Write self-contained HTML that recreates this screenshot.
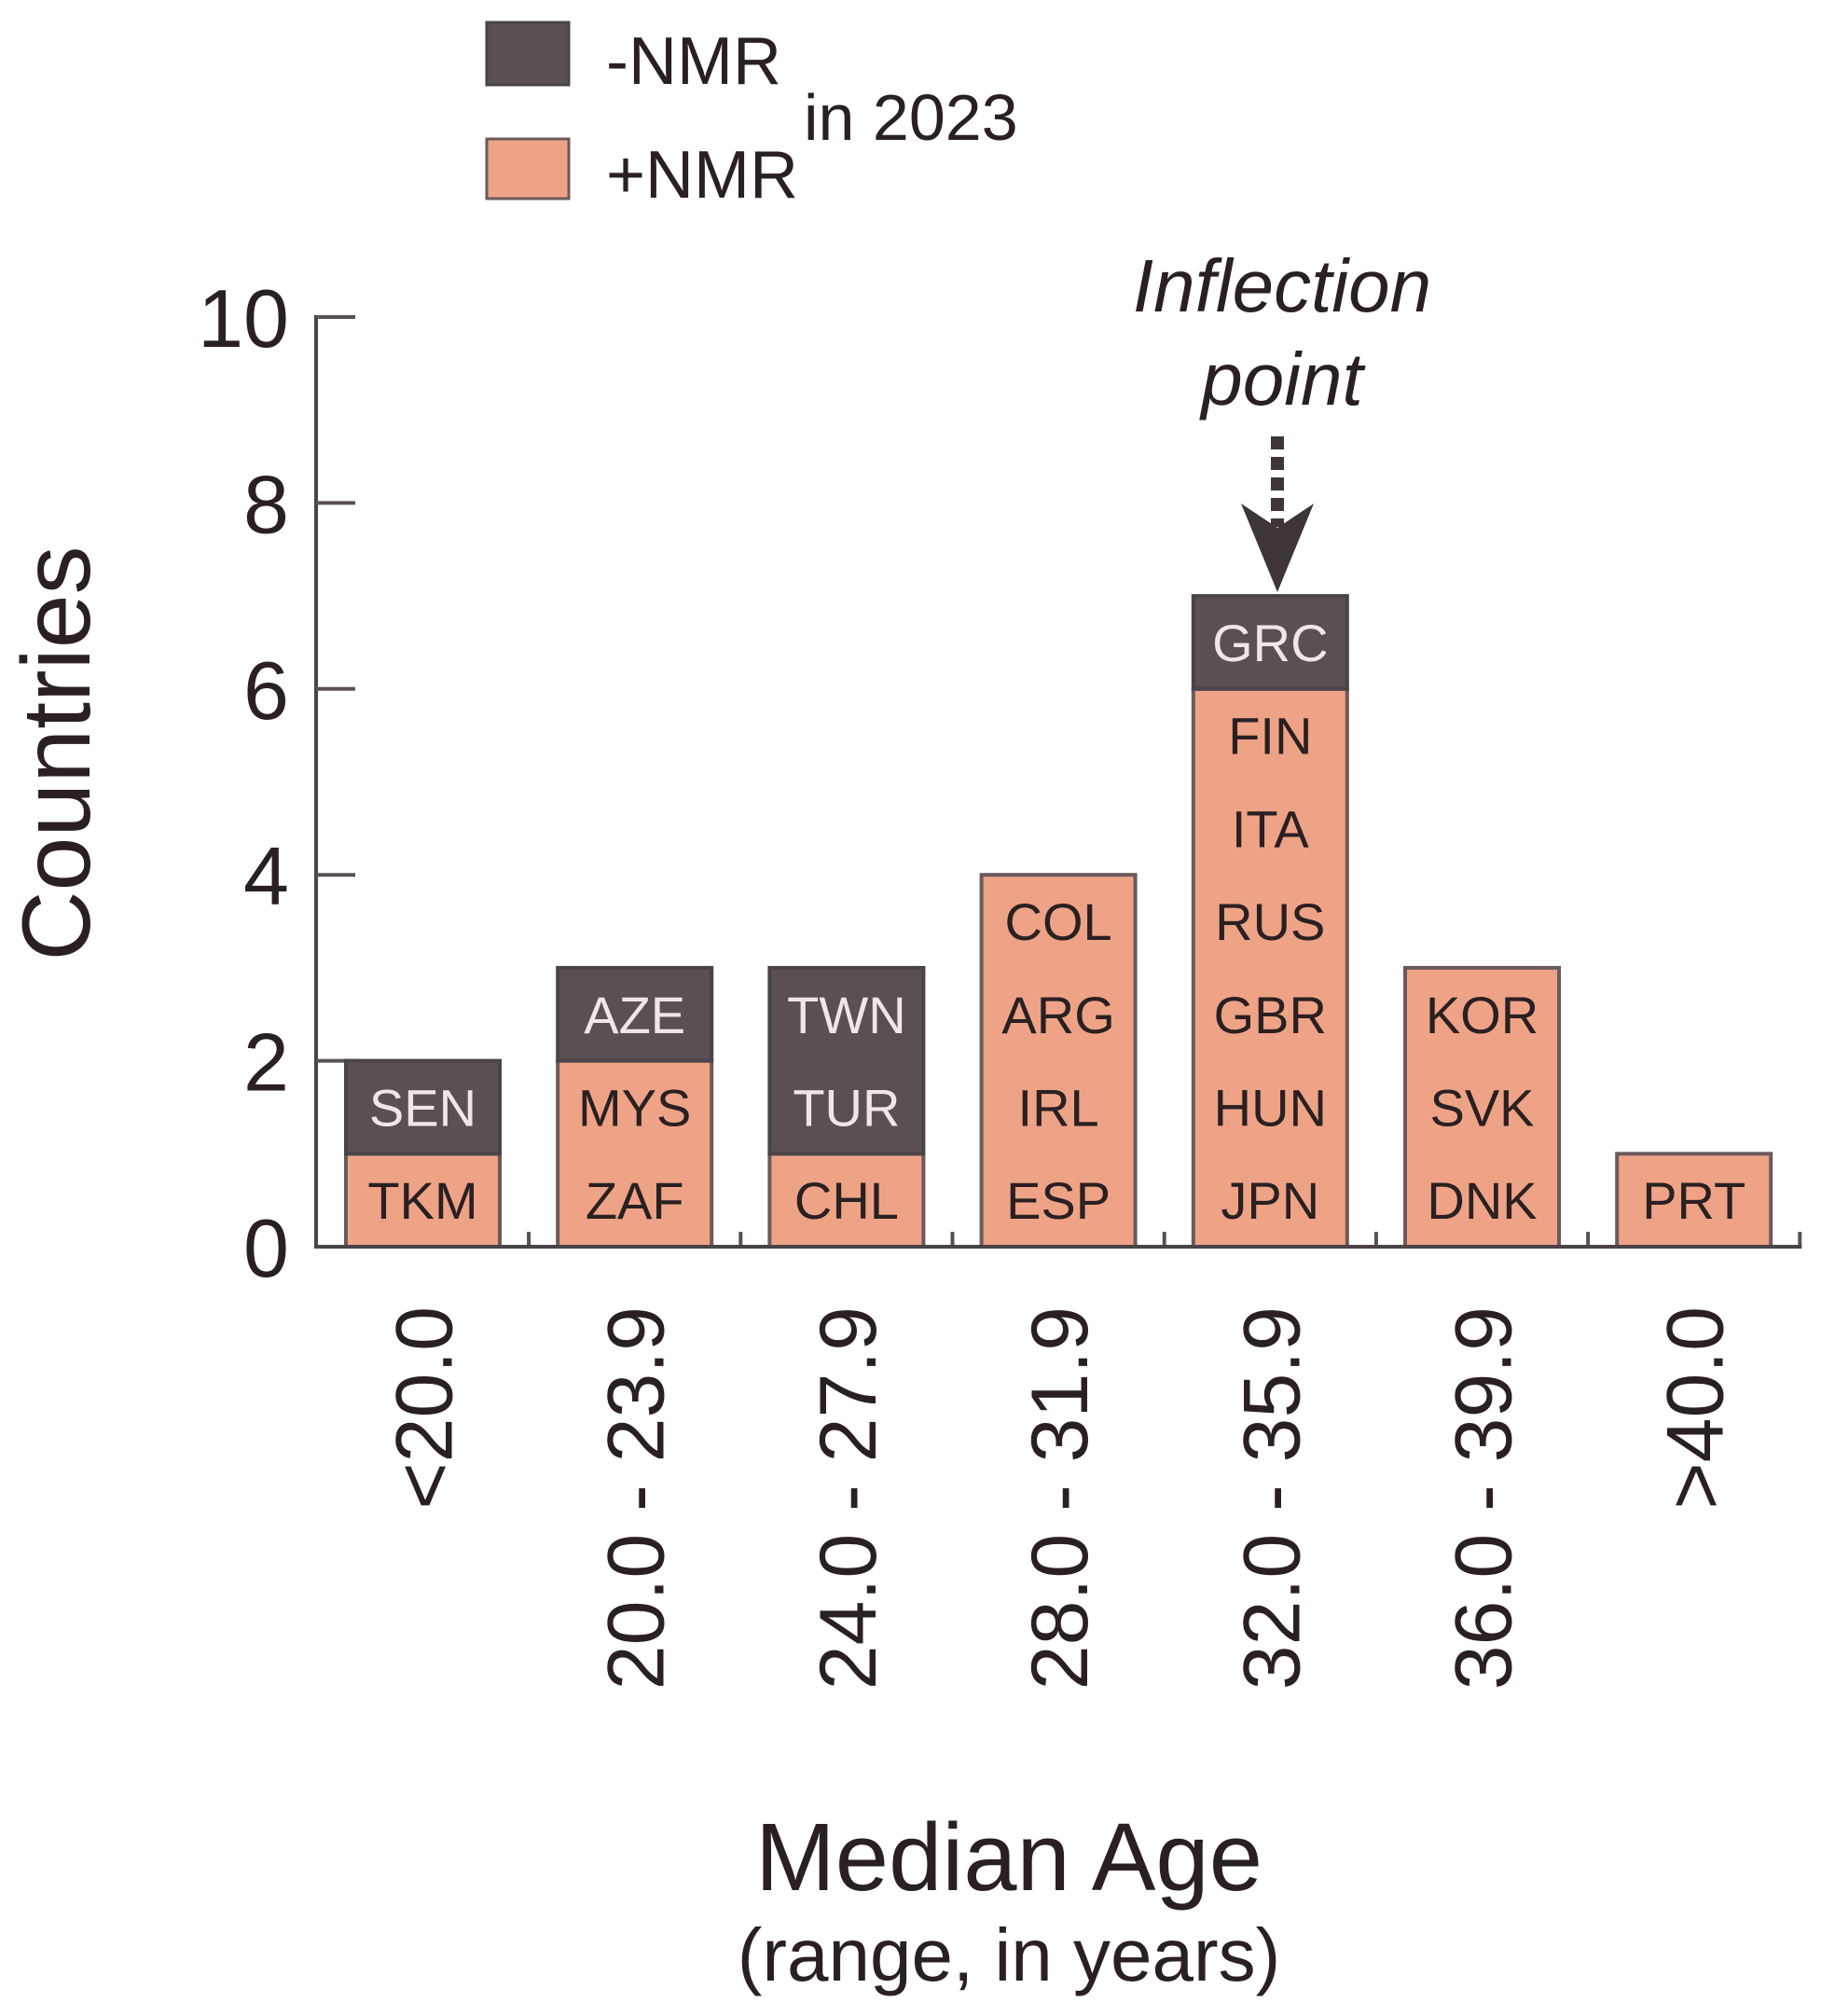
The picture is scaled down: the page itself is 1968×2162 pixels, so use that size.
<!DOCTYPE html>
<html><head><meta charset="utf-8"><style>
html,body{margin:0;padding:0;background:#fff;}
svg{display:block;font-family:"Liberation Sans",Arial,sans-serif;}
</style></head><body>
<svg id="chart" width="1968" height="2162" viewBox="0 0 1968 2162" xmlns="http://www.w3.org/2000/svg">
  <g>
    <rect x="522" y="24" width="88" height="67" fill="#5a4f55" stroke="#4a4347" stroke-width="3"/>
    <text x="650" y="90" font-size="72" fill="#2a2022">-NMR</text>
    <rect x="522" y="149" width="88" height="64" fill="#eea386" stroke="#6b5a5a" stroke-width="3"/>
    <text x="650" y="212" font-size="72" fill="#2a2022">+NMR</text>
    <text x="862" y="150" font-size="70" fill="#2a2022">in 2023</text>
  </g>
  <g>
    <text x="1375" y="334" font-size="80" font-style="italic" text-anchor="middle" fill="#2a2022">Inflection</text>
    <text x="1375" y="434" font-size="80" font-style="italic" text-anchor="middle" fill="#2a2022">point</text>
    <line x1="1370" y1="468" x2="1370" y2="565" stroke="#3d3538" stroke-width="14" stroke-dasharray="14 8"/>
    <path d="M1331 540 L1370 566 L1409 540 L1370 635 Z" fill="#3d3538"/>
  </g>
  <g id="plot"></g>
  <text transform="translate(96,808) rotate(-90)" font-size="104" text-anchor="middle" fill="#2a2022">Countries</text>
  <text x="1082" y="2027" font-size="103" text-anchor="middle" fill="#2a2022">Median Age</text>
  <text x="1082" y="2124" font-size="80" text-anchor="middle" fill="#2a2022">(range, in years)</text>
</svg>
<script>
const categories = ["<20.0","20.0 - 23.9","24.0 - 27.9","28.0 - 31.9","32.0 - 35.9","36.0 - 39.9",">40.0"];
const posCounts = [1,2,1,4,6,3,1];
const negCounts = [1,1,2,0,1,0,0];
const posLabels = [["TKM"],["ZAF","MYS"],["CHL"],["ESP","IRL","ARG","COL"],["JPN","HUN","GBR","RUS","ITA","FIN"],["DNK","SVK","KOR"],["PRT"]];
const negLabels = [["SEN"],["AZE"],["TUR","TWN"],[],["GRC"],[],[]];
const yTicks = [0,2,4,6,8,10];

const NS = "http://www.w3.org/2000/svg";
const plot = document.getElementById("plot");
const axisX = 339, y0 = 1337, y10 = 340;
const yScale = v => y0 - (y0 - y10) * v / 10;
const step = 227.2, barW = 165, firstLeft = 371;
const xLeft = i => firstLeft + i * step;
function mk(tag, attrs){const e=document.createElementNS(NS,tag);for(const k in attrs)e.setAttribute(k,attrs[k]);plot.appendChild(e);return e;}

let yl = mk("line",{x1:axisX,y1:yScale(10)-2,x2:axisX,y2:y0+2,stroke:"#4a4347","stroke-width":4});


yTicks.forEach(t=>{
  const y=yScale(t);
  if(t>0){
    const tk=mk("line",{x1:axisX,y1:y,x2:axisX+42,y2:y,stroke:"#5a5055","stroke-width":4});
    
    
  }
  const lb=mk("text",{x:310,y:y+32,"font-size":88,"text-anchor":"end",fill:"#2a2022"});
  lb.textContent=t;
  
  
});

categories.forEach((c,i)=>{
  const x=xLeft(i);
  const segs=[];
  posLabels[i].forEach((l,j)=>segs.push({v:j,label:l,neg:false}));
  negLabels[i].forEach((l,j)=>segs.push({v:posCounts[i]+j,label:l,neg:true}));
  if(posCounts[i]>0){
    const r=mk("rect",{x:x,y:yScale(posCounts[i]),width:barW,height:yScale(0)-yScale(posCounts[i]),fill:"#eea386",stroke:"#6b5a5a","stroke-width":4});
    
    
  }
  if(negCounts[i]>0){
    const tot=posCounts[i]+negCounts[i];
    const r=mk("rect",{x:x,y:yScale(tot),width:barW,height:yScale(posCounts[i])-yScale(tot),fill:"#5a4f55",stroke:"#4a4347","stroke-width":4});
    
    
  }
  segs.forEach(s=>{
    const cy=(yScale(s.v)+yScale(s.v+1))/2;
    const t=mk("text",{x:x+barW/2,y:cy+20,"font-size":56,"text-anchor":"middle",fill:s.neg?"#ece8e8":"#2a2022"});
    t.textContent=s.label;
    
    
  });
  const cx=x+barW/2;
  const cl=mk("text",{transform:`translate(${cx+31},1401) rotate(-90)`,"font-size":86,"text-anchor":"end",fill:"#2a2022"});
  cl.textContent=c;
  
  
  const tx=x+barW+(step-barW)/2;
  const mt=mk("line",{x1:tx,y1:y0,x2:tx,y2:y0-16,stroke:"#5a5055","stroke-width":4});
  
  
});
const xl=mk("line",{x1:axisX,y1:y0,x2:xLeft(categories.length-1)+barW+(step-barW)/2+2,y2:y0,stroke:"#4a4347","stroke-width":4});


</script>
</body></html>
